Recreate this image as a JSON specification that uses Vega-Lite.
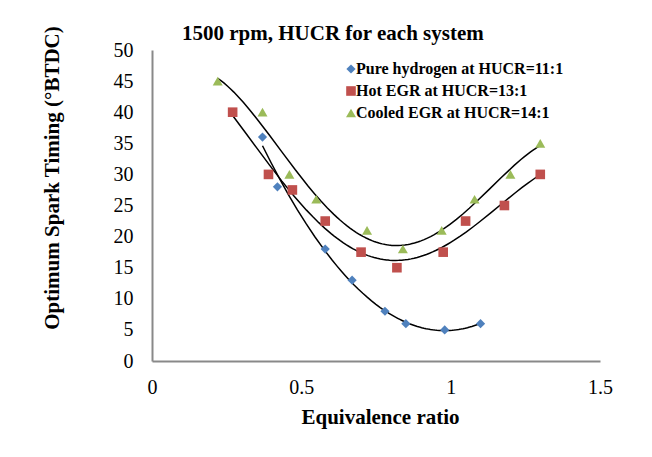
{
  "$schema": "https://vega.github.io/schema/vega-lite/v6.json",
  "width": 448,
  "height": 311,
  "autosize": "none",
  "padding": {"left": 152, "top": 50, "right": 52, "bottom": 96},
  "background": "white",
  "title": {"text": "1500 rpm, HUCR for each system", "anchor": "start", "frame": "group", "dx": 30, "dy": 43, "font": "Liberation Serif", "fontSize": 21, "fontWeight": "bold", "color": "black", "baseline": "alphabetic", "offset": 8},
  "config": {"view": {"stroke": null}, "font": "Liberation Serif"},
  "data": {"values": [
    {"series": "Pure hydrogen at HUCR=11:1", "phi": 0.37, "timing": 36},
    {"series": "Pure hydrogen at HUCR=11:1", "phi": 0.42, "timing": 28},
    {"series": "Pure hydrogen at HUCR=11:1", "phi": 0.58, "timing": 18},
    {"series": "Pure hydrogen at HUCR=11:1", "phi": 0.67, "timing": 13},
    {"series": "Pure hydrogen at HUCR=11:1", "phi": 0.78, "timing": 8},
    {"series": "Pure hydrogen at HUCR=11:1", "phi": 0.85, "timing": 6},
    {"series": "Pure hydrogen at HUCR=11:1", "phi": 0.98, "timing": 5},
    {"series": "Pure hydrogen at HUCR=11:1", "phi": 1.1, "timing": 6},
    {"series": "Hot EGR at HUCR=13:1", "phi": 0.27, "timing": 40},
    {"series": "Hot EGR at HUCR=13:1", "phi": 0.39, "timing": 30},
    {"series": "Hot EGR at HUCR=13:1", "phi": 0.47, "timing": 27.5},
    {"series": "Hot EGR at HUCR=13:1", "phi": 0.58, "timing": 22.5},
    {"series": "Hot EGR at HUCR=13:1", "phi": 0.7, "timing": 17.5},
    {"series": "Hot EGR at HUCR=13:1", "phi": 0.82, "timing": 15},
    {"series": "Hot EGR at HUCR=13:1", "phi": 0.975, "timing": 17.5},
    {"series": "Hot EGR at HUCR=13:1", "phi": 1.05, "timing": 22.5},
    {"series": "Hot EGR at HUCR=13:1", "phi": 1.18, "timing": 25},
    {"series": "Hot EGR at HUCR=13:1", "phi": 1.3, "timing": 30},
    {"series": "Cooled EGR at HUCR=14:1", "phi": 0.22, "timing": 45},
    {"series": "Cooled EGR at HUCR=14:1", "phi": 0.37, "timing": 40},
    {"series": "Cooled EGR at HUCR=14:1", "phi": 0.46, "timing": 30},
    {"series": "Cooled EGR at HUCR=14:1", "phi": 0.55, "timing": 26},
    {"series": "Cooled EGR at HUCR=14:1", "phi": 0.72, "timing": 21},
    {"series": "Cooled EGR at HUCR=14:1", "phi": 0.84, "timing": 18},
    {"series": "Cooled EGR at HUCR=14:1", "phi": 0.97, "timing": 21},
    {"series": "Cooled EGR at HUCR=14:1", "phi": 1.08, "timing": 26},
    {"series": "Cooled EGR at HUCR=14:1", "phi": 1.2, "timing": 30},
    {"series": "Cooled EGR at HUCR=14:1", "phi": 1.3, "timing": 35}
  ]},
  "encoding": {
    "x": {"field": "phi", "type": "quantitative", "scale": {"domain": [0, 1.5], "nice": false},
      "axis": {"values": [0, 0.5, 1, 1.5], "format": "~g", "labelFlush": false, "title": "Equivalence ratio", "grid": false, "ticks": false, "tickSize": 0,
        "domainColor": "#898989", "domainWidth": 2, "labelFont": "Liberation Serif", "labelFontSize": 20, "labelColor": "black", "labelPadding": 16,
        "titleFont": "Liberation Serif", "titleFontSize": 21, "titleFontWeight": "bold", "titleColor": "black",
        "titleX": 228, "titleY": 62, "titleAlign": "center", "titleBaseline": "alphabetic"}},
    "y": {"field": "timing", "type": "quantitative", "scale": {"domain": [0, 50], "nice": false},
      "axis": {"values": [0, 5, 10, 15, 20, 25, 30, 35, 40, 45, 50], "title": "Optimum Spark Timing (°BTDC)", "grid": false, "ticks": false, "tickSize": 0,
        "domainColor": "#898989", "domainWidth": 2, "labelFont": "Liberation Serif", "labelFontSize": 20, "labelColor": "black", "labelPadding": 19,
        "titleFont": "Liberation Serif", "titleFontSize": 21, "titleFontWeight": "bold", "titleColor": "black",
        "titleAngle": 270, "titleX": -94, "titleY": 127.5, "titleAlign": "center", "titleBaseline": "alphabetic"}}
  },
  "layer": [
    {
      "transform": [
        {"filter": "datum.series === 'Pure hydrogen at HUCR=11:1'"},
        {"regression": "timing", "on": "phi", "groupby": ["series"], "method": "poly", "order": 2}
      ],
      "mark": {"type": "line", "color": "black", "strokeWidth": 1.5},
      "encoding": {"detail": {"field": "series"}}
    },
    {
      "transform": [
        {"filter": "datum.series !== 'Pure hydrogen at HUCR=11:1'"},
        {"regression": "timing", "on": "phi", "groupby": ["series"], "method": "poly", "order": 4}
      ],
      "mark": {"type": "line", "color": "black", "strokeWidth": 1.5},
      "encoding": {"detail": {"field": "series"}}
    },
    {
      "mark": {"type": "point", "filled": true, "opacity": 1},
      "encoding": {
        "color": {"field": "series", "type": "nominal",
          "scale": {"domain": ["Pure hydrogen at HUCR=11:1", "Hot EGR at HUCR=13:1", "Cooled EGR at HUCR=14:1"], "range": ["#4F81BD", "#C0504D", "#9BBB59"]},
          "legend": {"title": null, "orient": "none", "legendX": 191, "legendY": 11, "padding": 0, "labelFont": "Liberation Serif", "labelFontSize": 16, "labelFontWeight": "bold", "labelColor": "black", "labelLimit": 400, "rowPadding": 6, "symbolSize": 60, "labelOffset": -3}},
        "shape": {"field": "series", "type": "nominal",
          "scale": {"domain": ["Pure hydrogen at HUCR=11:1", "Hot EGR at HUCR=13:1", "Cooled EGR at HUCR=14:1"], "range": ["diamond", "square", "triangle-up"]},
          "legend": {"title": null, "orient": "none", "legendX": 191, "legendY": 11, "padding": 0, "labelFont": "Liberation Serif", "labelFontSize": 16, "labelFontWeight": "bold", "labelColor": "black", "labelLimit": 400, "rowPadding": 6, "symbolSize": 60, "labelOffset": -3}},
        "size": {"field": "series", "type": "nominal",
          "scale": {"domain": ["Pure hydrogen at HUCR=11:1", "Hot EGR at HUCR=13:1", "Cooled EGR at HUCR=14:1"], "range": [85, 100, 100]},
          "legend": null}
      }
    }
  ]
}
